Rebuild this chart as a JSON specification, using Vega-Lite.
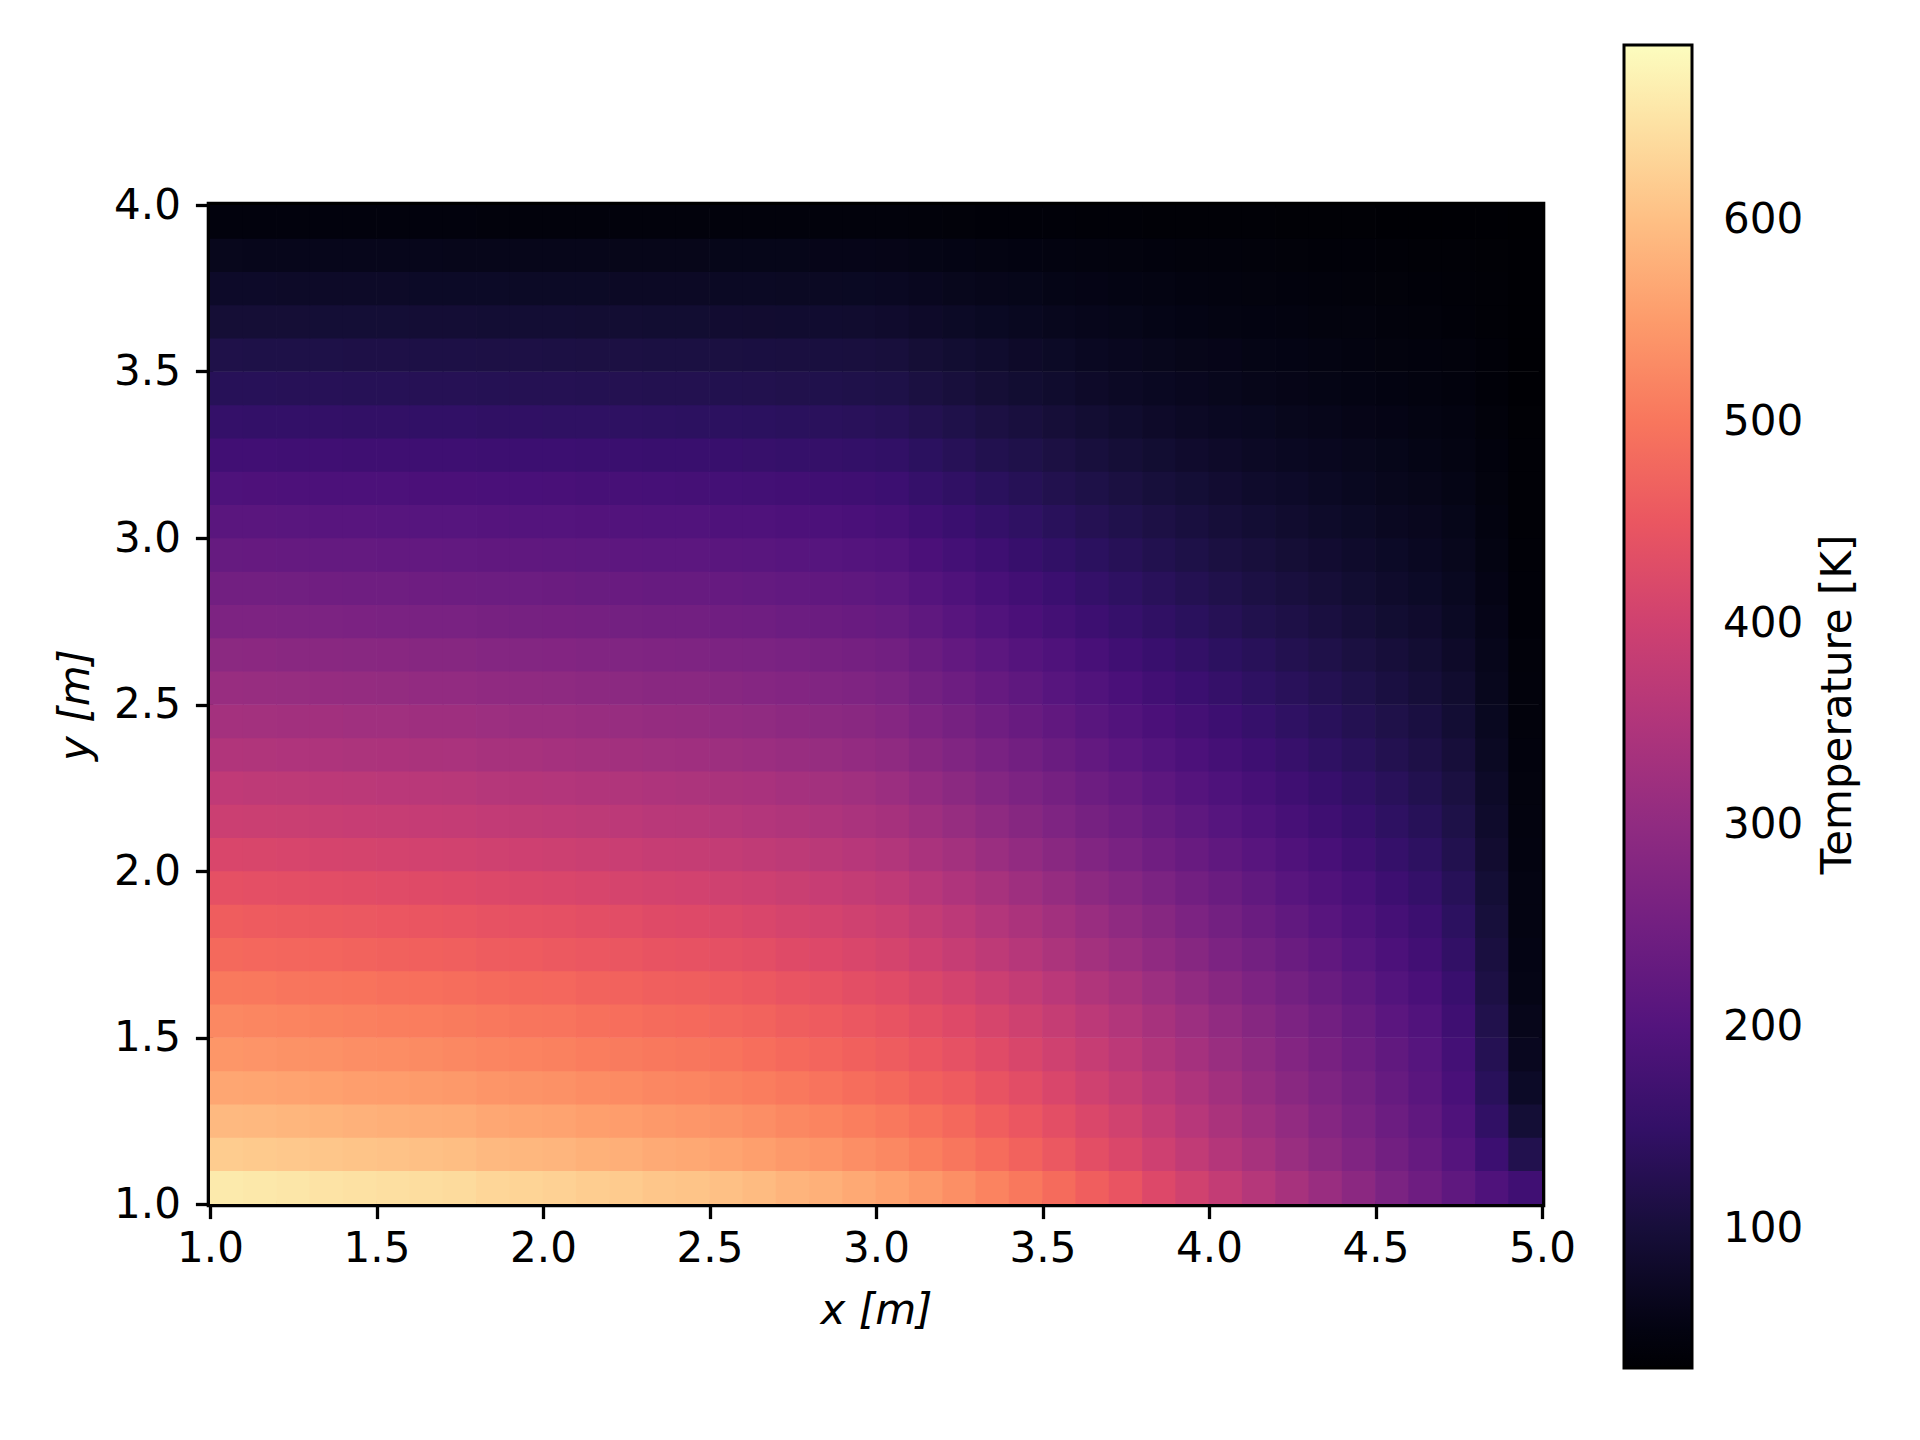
{
"$schema": "https://vega.github.io/schema/vega-lite/v6.json",
"width": 1332,
"height": 999,
"autosize": "none",
"padding": {"left": 210, "top": 205, "right": 378, "bottom": 236},
"background": "white",
"title": {"text": "Temperature [K]", "orient": "right", "frame": "group", "anchor": "middle", "angle": 270, "baseline": "top", "offset": -28, "fontSize": 42, "fontWeight": "normal", "font": "DejaVu Sans", "color": "black"},
"config": {
  "font": "DejaVu Sans",
  "view": {"stroke": "black", "strokeWidth": 6.6},
  "axis": {"domain": false, "grid": false, "ticks": true, "labelFlush": false, "labelOverlap": false, "tickSize": 14.6, "tickWidth": 3.3, "tickColor": "black", "labelFontSize": 42, "labelColor": "black", "labelFont": "DejaVu Sans", "titleFontSize": 42, "titleFontWeight": "normal", "titleColor": "black", "titleFont": "DejaVu Sans", "titleFontStyle": "italic", "zindex": 1}
},
"data": {"values": [
{"x":1.05,"y":1.05,"t":661},{"x":1.15,"y":1.05,"t":658},{"x":1.25,"y":1.05,"t":655},{"x":1.35,"y":1.05,"t":651},{"x":1.45,"y":1.05,"t":648},{"x":1.55,"y":1.05,"t":645},{"x":1.65,"y":1.05,"t":642},{"x":1.75,"y":1.05,"t":639},{"x":1.85,"y":1.05,"t":632},{"x":1.95,"y":1.05,"t":629},{"x":2.05,"y":1.05,"t":626},{"x":2.15,"y":1.05,"t":620},{"x":2.25,"y":1.05,"t":617},{"x":2.35,"y":1.05,"t":610},{"x":2.45,"y":1.05,"t":607},{"x":2.55,"y":1.05,"t":601},{"x":2.65,"y":1.05,"t":594},{"x":2.75,"y":1.05,"t":585},{"x":2.85,"y":1.05,"t":579},{"x":2.95,"y":1.05,"t":569},{"x":3.05,"y":1.05,"t":560},{"x":3.15,"y":1.05,"t":547},{"x":3.25,"y":1.05,"t":534},{"x":3.35,"y":1.05,"t":518},{"x":3.45,"y":1.05,"t":503},{"x":3.55,"y":1.05,"t":484},{"x":3.65,"y":1.05,"t":465},{"x":3.75,"y":1.05,"t":446},{"x":3.85,"y":1.05,"t":423},{"x":3.95,"y":1.05,"t":401},{"x":4.05,"y":1.05,"t":379},{"x":4.15,"y":1.05,"t":357},{"x":4.25,"y":1.05,"t":335},{"x":4.35,"y":1.05,"t":313},{"x":4.45,"y":1.05,"t":291},{"x":4.55,"y":1.05,"t":265},{"x":4.65,"y":1.05,"t":243},{"x":4.75,"y":1.05,"t":218},{"x":4.85,"y":1.05,"t":192},{"x":4.95,"y":1.05,"t":170},
{"x":1.05,"y":1.15,"t":618},{"x":1.15,"y":1.15,"t":615},{"x":1.25,"y":1.15,"t":613},{"x":1.35,"y":1.15,"t":610},{"x":1.45,"y":1.15,"t":607},{"x":1.55,"y":1.15,"t":604},{"x":1.65,"y":1.15,"t":601},{"x":1.75,"y":1.15,"t":598},{"x":1.85,"y":1.15,"t":592},{"x":1.95,"y":1.15,"t":589},{"x":2.05,"y":1.15,"t":586},{"x":2.15,"y":1.15,"t":580},{"x":2.25,"y":1.15,"t":577},{"x":2.35,"y":1.15,"t":571},{"x":2.45,"y":1.15,"t":568},{"x":2.55,"y":1.15,"t":562},{"x":2.65,"y":1.15,"t":556},{"x":2.75,"y":1.15,"t":548},{"x":2.85,"y":1.15,"t":542},{"x":2.95,"y":1.15,"t":533},{"x":3.05,"y":1.15,"t":524},{"x":3.15,"y":1.15,"t":512},{"x":3.25,"y":1.15,"t":500},{"x":3.35,"y":1.15,"t":486},{"x":3.45,"y":1.15,"t":471},{"x":3.55,"y":1.15,"t":453},{"x":3.65,"y":1.15,"t":435},{"x":3.75,"y":1.15,"t":418},{"x":3.85,"y":1.15,"t":397},{"x":3.95,"y":1.15,"t":376},{"x":4.05,"y":1.15,"t":356},{"x":4.15,"y":1.15,"t":335},{"x":4.25,"y":1.15,"t":314},{"x":4.35,"y":1.15,"t":294},{"x":4.45,"y":1.15,"t":273},{"x":4.55,"y":1.15,"t":249},{"x":4.65,"y":1.15,"t":229},{"x":4.75,"y":1.15,"t":202},{"x":4.85,"y":1.15,"t":164},{"x":4.95,"y":1.15,"t":122},
{"x":1.05,"y":1.25,"t":592},{"x":1.15,"y":1.25,"t":590},{"x":1.25,"y":1.25,"t":587},{"x":1.35,"y":1.25,"t":584},{"x":1.45,"y":1.25,"t":581},{"x":1.55,"y":1.25,"t":578},{"x":1.65,"y":1.25,"t":575},{"x":1.75,"y":1.25,"t":573},{"x":1.85,"y":1.25,"t":567},{"x":1.95,"y":1.25,"t":564},{"x":2.05,"y":1.25,"t":561},{"x":2.15,"y":1.25,"t":556},{"x":2.25,"y":1.25,"t":553},{"x":2.35,"y":1.25,"t":547},{"x":2.45,"y":1.25,"t":544},{"x":2.55,"y":1.25,"t":539},{"x":2.65,"y":1.25,"t":533},{"x":2.75,"y":1.25,"t":525},{"x":2.85,"y":1.25,"t":519},{"x":2.95,"y":1.25,"t":511},{"x":3.05,"y":1.25,"t":502},{"x":3.15,"y":1.25,"t":491},{"x":3.25,"y":1.25,"t":480},{"x":3.35,"y":1.25,"t":465},{"x":3.45,"y":1.25,"t":451},{"x":3.55,"y":1.25,"t":434},{"x":3.65,"y":1.25,"t":418},{"x":3.75,"y":1.25,"t":401},{"x":3.85,"y":1.25,"t":381},{"x":3.95,"y":1.25,"t":361},{"x":4.05,"y":1.25,"t":341},{"x":4.15,"y":1.25,"t":322},{"x":4.25,"y":1.25,"t":302},{"x":4.35,"y":1.25,"t":282},{"x":4.45,"y":1.25,"t":262},{"x":4.55,"y":1.25,"t":240},{"x":4.65,"y":1.25,"t":220},{"x":4.75,"y":1.25,"t":192},{"x":4.85,"y":1.25,"t":147},{"x":4.95,"y":1.25,"t":95},
{"x":1.05,"y":1.35,"t":566},{"x":1.15,"y":1.35,"t":564},{"x":1.25,"y":1.35,"t":561},{"x":1.35,"y":1.35,"t":558},{"x":1.45,"y":1.35,"t":555},{"x":1.55,"y":1.35,"t":553},{"x":1.65,"y":1.35,"t":550},{"x":1.75,"y":1.35,"t":547},{"x":1.85,"y":1.35,"t":542},{"x":1.95,"y":1.35,"t":539},{"x":2.05,"y":1.35,"t":537},{"x":2.15,"y":1.35,"t":531},{"x":2.25,"y":1.35,"t":529},{"x":2.35,"y":1.35,"t":523},{"x":2.45,"y":1.35,"t":520},{"x":2.55,"y":1.35,"t":515},{"x":2.65,"y":1.35,"t":510},{"x":2.75,"y":1.35,"t":502},{"x":2.85,"y":1.35,"t":496},{"x":2.95,"y":1.35,"t":488},{"x":3.05,"y":1.35,"t":480},{"x":3.15,"y":1.35,"t":469},{"x":3.25,"y":1.35,"t":459},{"x":3.35,"y":1.35,"t":445},{"x":3.45,"y":1.35,"t":432},{"x":3.55,"y":1.35,"t":416},{"x":3.65,"y":1.35,"t":399},{"x":3.75,"y":1.35,"t":383},{"x":3.85,"y":1.35,"t":365},{"x":3.95,"y":1.35,"t":346},{"x":4.05,"y":1.35,"t":327},{"x":4.15,"y":1.35,"t":308},{"x":4.25,"y":1.35,"t":289},{"x":4.35,"y":1.35,"t":270},{"x":4.45,"y":1.35,"t":252},{"x":4.55,"y":1.35,"t":230},{"x":4.65,"y":1.35,"t":211},{"x":4.75,"y":1.35,"t":183},{"x":4.85,"y":1.35,"t":135},{"x":4.95,"y":1.35,"t":78},
{"x":1.05,"y":1.45,"t":543},{"x":1.15,"y":1.45,"t":541},{"x":1.25,"y":1.45,"t":538},{"x":1.35,"y":1.45,"t":536},{"x":1.45,"y":1.45,"t":533},{"x":1.55,"y":1.45,"t":531},{"x":1.65,"y":1.45,"t":528},{"x":1.75,"y":1.45,"t":525},{"x":1.85,"y":1.45,"t":520},{"x":1.95,"y":1.45,"t":518},{"x":2.05,"y":1.45,"t":515},{"x":2.15,"y":1.45,"t":510},{"x":2.25,"y":1.45,"t":507},{"x":2.35,"y":1.45,"t":502},{"x":2.45,"y":1.45,"t":500},{"x":2.55,"y":1.45,"t":495},{"x":2.65,"y":1.45,"t":489},{"x":2.75,"y":1.45,"t":482},{"x":2.85,"y":1.45,"t":476},{"x":2.95,"y":1.45,"t":469},{"x":3.05,"y":1.45,"t":461},{"x":3.15,"y":1.45,"t":451},{"x":3.25,"y":1.45,"t":440},{"x":3.35,"y":1.45,"t":428},{"x":3.45,"y":1.45,"t":415},{"x":3.55,"y":1.45,"t":399},{"x":3.65,"y":1.45,"t":384},{"x":3.75,"y":1.45,"t":368},{"x":3.85,"y":1.45,"t":350},{"x":3.95,"y":1.45,"t":332},{"x":4.05,"y":1.45,"t":314},{"x":4.15,"y":1.45,"t":296},{"x":4.25,"y":1.45,"t":278},{"x":4.35,"y":1.45,"t":260},{"x":4.45,"y":1.45,"t":242},{"x":4.55,"y":1.45,"t":222},{"x":4.65,"y":1.45,"t":204},{"x":4.75,"y":1.45,"t":176},{"x":4.85,"y":1.45,"t":127},{"x":4.95,"y":1.45,"t":68},
{"x":1.05,"y":1.55,"t":524},{"x":1.15,"y":1.55,"t":521},{"x":1.25,"y":1.55,"t":519},{"x":1.35,"y":1.55,"t":516},{"x":1.45,"y":1.55,"t":514},{"x":1.55,"y":1.55,"t":511},{"x":1.65,"y":1.55,"t":509},{"x":1.75,"y":1.55,"t":506},{"x":1.85,"y":1.55,"t":502},{"x":1.95,"y":1.55,"t":499},{"x":2.05,"y":1.55,"t":497},{"x":2.15,"y":1.55,"t":492},{"x":2.25,"y":1.55,"t":489},{"x":2.35,"y":1.55,"t":484},{"x":2.45,"y":1.55,"t":482},{"x":2.55,"y":1.55,"t":477},{"x":2.65,"y":1.55,"t":472},{"x":2.75,"y":1.55,"t":464},{"x":2.85,"y":1.55,"t":459},{"x":2.95,"y":1.55,"t":452},{"x":3.05,"y":1.55,"t":445},{"x":3.15,"y":1.55,"t":434},{"x":3.25,"y":1.55,"t":424},{"x":3.35,"y":1.55,"t":411},{"x":3.45,"y":1.55,"t":398},{"x":3.55,"y":1.55,"t":383},{"x":3.65,"y":1.55,"t":368},{"x":3.75,"y":1.55,"t":353},{"x":3.85,"y":1.55,"t":335},{"x":3.95,"y":1.55,"t":318},{"x":4.05,"y":1.55,"t":301},{"x":4.15,"y":1.55,"t":283},{"x":4.25,"y":1.55,"t":266},{"x":4.35,"y":1.55,"t":249},{"x":4.45,"y":1.55,"t":232},{"x":4.55,"y":1.55,"t":212},{"x":4.65,"y":1.55,"t":195},{"x":4.75,"y":1.55,"t":168},{"x":4.85,"y":1.55,"t":120},{"x":4.95,"y":1.55,"t":62},
{"x":1.05,"y":1.65,"t":504},{"x":1.15,"y":1.65,"t":502},{"x":1.25,"y":1.65,"t":499},{"x":1.35,"y":1.65,"t":497},{"x":1.45,"y":1.65,"t":495},{"x":1.55,"y":1.65,"t":492},{"x":1.65,"y":1.65,"t":490},{"x":1.75,"y":1.65,"t":488},{"x":1.85,"y":1.65,"t":483},{"x":1.95,"y":1.65,"t":480},{"x":2.05,"y":1.65,"t":478},{"x":2.15,"y":1.65,"t":473},{"x":2.25,"y":1.65,"t":471},{"x":2.35,"y":1.65,"t":466},{"x":2.45,"y":1.65,"t":464},{"x":2.55,"y":1.65,"t":459},{"x":2.65,"y":1.65,"t":454},{"x":2.75,"y":1.65,"t":447},{"x":2.85,"y":1.65,"t":442},{"x":2.95,"y":1.65,"t":435},{"x":3.05,"y":1.65,"t":428},{"x":3.15,"y":1.65,"t":417},{"x":3.25,"y":1.65,"t":406},{"x":3.35,"y":1.65,"t":393},{"x":3.45,"y":1.65,"t":380},{"x":3.55,"y":1.65,"t":365},{"x":3.65,"y":1.65,"t":350},{"x":3.75,"y":1.65,"t":335},{"x":3.85,"y":1.65,"t":318},{"x":3.95,"y":1.65,"t":301},{"x":4.05,"y":1.65,"t":285},{"x":4.15,"y":1.65,"t":268},{"x":4.25,"y":1.65,"t":252},{"x":4.35,"y":1.65,"t":235},{"x":4.45,"y":1.65,"t":219},{"x":4.55,"y":1.65,"t":200},{"x":4.65,"y":1.65,"t":184},{"x":4.75,"y":1.65,"t":159},{"x":4.85,"y":1.65,"t":112},{"x":4.95,"y":1.65,"t":56},
{"x":1.05,"y":1.75,"t":481},{"x":1.15,"y":1.75,"t":479},{"x":1.25,"y":1.75,"t":477},{"x":1.35,"y":1.75,"t":475},{"x":1.45,"y":1.75,"t":472},{"x":1.55,"y":1.75,"t":470},{"x":1.65,"y":1.75,"t":468},{"x":1.75,"y":1.75,"t":466},{"x":1.85,"y":1.75,"t":461},{"x":1.95,"y":1.75,"t":459},{"x":2.05,"y":1.75,"t":456},{"x":2.15,"y":1.75,"t":452},{"x":2.25,"y":1.75,"t":450},{"x":2.35,"y":1.75,"t":445},{"x":2.45,"y":1.75,"t":443},{"x":2.55,"y":1.75,"t":438},{"x":2.65,"y":1.75,"t":434},{"x":2.75,"y":1.75,"t":427},{"x":2.85,"y":1.75,"t":423},{"x":2.95,"y":1.75,"t":416},{"x":3.05,"y":1.75,"t":408},{"x":3.15,"y":1.75,"t":397},{"x":3.25,"y":1.75,"t":385},{"x":3.35,"y":1.75,"t":372},{"x":3.45,"y":1.75,"t":359},{"x":3.55,"y":1.75,"t":344},{"x":3.65,"y":1.75,"t":330},{"x":3.75,"y":1.75,"t":315},{"x":3.85,"y":1.75,"t":299},{"x":3.95,"y":1.75,"t":283},{"x":4.05,"y":1.75,"t":267},{"x":4.15,"y":1.75,"t":252},{"x":4.25,"y":1.75,"t":236},{"x":4.35,"y":1.75,"t":221},{"x":4.45,"y":1.75,"t":205},{"x":4.55,"y":1.75,"t":188},{"x":4.65,"y":1.75,"t":173},{"x":4.75,"y":1.75,"t":149},{"x":4.85,"y":1.75,"t":106},{"x":4.95,"y":1.75,"t":54},
{"x":1.05,"y":1.85,"t":462},{"x":1.15,"y":1.85,"t":460},{"x":1.25,"y":1.85,"t":458},{"x":1.35,"y":1.85,"t":455},{"x":1.45,"y":1.85,"t":453},{"x":1.55,"y":1.85,"t":451},{"x":1.65,"y":1.85,"t":449},{"x":1.75,"y":1.85,"t":447},{"x":1.85,"y":1.85,"t":442},{"x":1.95,"y":1.85,"t":440},{"x":2.05,"y":1.85,"t":438},{"x":2.15,"y":1.85,"t":434},{"x":2.25,"y":1.85,"t":432},{"x":2.35,"y":1.85,"t":427},{"x":2.45,"y":1.85,"t":425},{"x":2.55,"y":1.85,"t":421},{"x":2.65,"y":1.85,"t":416},{"x":2.75,"y":1.85,"t":410},{"x":2.85,"y":1.85,"t":406},{"x":2.95,"y":1.85,"t":399},{"x":3.05,"y":1.85,"t":392},{"x":3.15,"y":1.85,"t":380},{"x":3.25,"y":1.85,"t":368},{"x":3.35,"y":1.85,"t":355},{"x":3.45,"y":1.85,"t":342},{"x":3.55,"y":1.85,"t":327},{"x":3.65,"y":1.85,"t":313},{"x":3.75,"y":1.85,"t":298},{"x":3.85,"y":1.85,"t":283},{"x":3.95,"y":1.85,"t":267},{"x":4.05,"y":1.85,"t":252},{"x":4.15,"y":1.85,"t":237},{"x":4.25,"y":1.85,"t":222},{"x":4.35,"y":1.85,"t":208},{"x":4.45,"y":1.85,"t":193},{"x":4.55,"y":1.85,"t":177},{"x":4.65,"y":1.85,"t":163},{"x":4.75,"y":1.85,"t":141},{"x":4.85,"y":1.85,"t":101},{"x":4.95,"y":1.85,"t":52},
{"x":1.05,"y":1.95,"t":439},{"x":1.15,"y":1.95,"t":437},{"x":1.25,"y":1.95,"t":435},{"x":1.35,"y":1.95,"t":433},{"x":1.45,"y":1.95,"t":431},{"x":1.55,"y":1.95,"t":429},{"x":1.65,"y":1.95,"t":427},{"x":1.75,"y":1.95,"t":425},{"x":1.85,"y":1.95,"t":421},{"x":1.95,"y":1.95,"t":418},{"x":2.05,"y":1.95,"t":416},{"x":2.15,"y":1.95,"t":412},{"x":2.25,"y":1.95,"t":410},{"x":2.35,"y":1.95,"t":406},{"x":2.45,"y":1.95,"t":404},{"x":2.55,"y":1.95,"t":400},{"x":2.65,"y":1.95,"t":396},{"x":2.75,"y":1.95,"t":390},{"x":2.85,"y":1.95,"t":386},{"x":2.95,"y":1.95,"t":380},{"x":3.05,"y":1.95,"t":373},{"x":3.15,"y":1.95,"t":360},{"x":3.25,"y":1.95,"t":348},{"x":3.35,"y":1.95,"t":335},{"x":3.45,"y":1.95,"t":322},{"x":3.55,"y":1.95,"t":308},{"x":3.65,"y":1.95,"t":294},{"x":3.75,"y":1.95,"t":280},{"x":3.85,"y":1.95,"t":265},{"x":3.95,"y":1.95,"t":250},{"x":4.05,"y":1.95,"t":236},{"x":4.15,"y":1.95,"t":222},{"x":4.25,"y":1.95,"t":208},{"x":4.35,"y":1.95,"t":194},{"x":4.45,"y":1.95,"t":181},{"x":4.55,"y":1.95,"t":165},{"x":4.65,"y":1.95,"t":152},{"x":4.75,"y":1.95,"t":132},{"x":4.85,"y":1.95,"t":95},{"x":4.95,"y":1.95,"t":51},
{"x":1.05,"y":2.05,"t":416},{"x":1.15,"y":2.05,"t":414},{"x":1.25,"y":2.05,"t":412},{"x":1.35,"y":2.05,"t":410},{"x":1.45,"y":2.05,"t":408},{"x":1.55,"y":2.05,"t":406},{"x":1.65,"y":2.05,"t":404},{"x":1.75,"y":2.05,"t":403},{"x":1.85,"y":2.05,"t":399},{"x":1.95,"y":2.05,"t":397},{"x":2.05,"y":2.05,"t":395},{"x":2.15,"y":2.05,"t":391},{"x":2.25,"y":2.05,"t":389},{"x":2.35,"y":2.05,"t":385},{"x":2.45,"y":2.05,"t":383},{"x":2.55,"y":2.05,"t":379},{"x":2.65,"y":2.05,"t":375},{"x":2.75,"y":2.05,"t":370},{"x":2.85,"y":2.05,"t":366},{"x":2.95,"y":2.05,"t":360},{"x":3.05,"y":2.05,"t":353},{"x":3.15,"y":2.05,"t":340},{"x":3.25,"y":2.05,"t":329},{"x":3.35,"y":2.05,"t":315},{"x":3.45,"y":2.05,"t":303},{"x":3.55,"y":2.05,"t":289},{"x":3.65,"y":2.05,"t":275},{"x":3.75,"y":2.05,"t":261},{"x":3.85,"y":2.05,"t":247},{"x":3.95,"y":2.05,"t":233},{"x":4.05,"y":2.05,"t":220},{"x":4.15,"y":2.05,"t":207},{"x":4.25,"y":2.05,"t":194},{"x":4.35,"y":2.05,"t":181},{"x":4.45,"y":2.05,"t":168},{"x":4.55,"y":2.05,"t":154},{"x":4.65,"y":2.05,"t":142},{"x":4.75,"y":2.05,"t":123},{"x":4.85,"y":2.05,"t":89},{"x":4.95,"y":2.05,"t":49},
{"x":1.05,"y":2.15,"t":393},{"x":1.15,"y":2.15,"t":391},{"x":1.25,"y":2.15,"t":390},{"x":1.35,"y":2.15,"t":388},{"x":1.45,"y":2.15,"t":386},{"x":1.55,"y":2.15,"t":384},{"x":1.65,"y":2.15,"t":382},{"x":1.75,"y":2.15,"t":381},{"x":1.85,"y":2.15,"t":377},{"x":1.95,"y":2.15,"t":375},{"x":2.05,"y":2.15,"t":373},{"x":2.15,"y":2.15,"t":370},{"x":2.25,"y":2.15,"t":368},{"x":2.35,"y":2.15,"t":364},{"x":2.45,"y":2.15,"t":362},{"x":2.55,"y":2.15,"t":359},{"x":2.65,"y":2.15,"t":355},{"x":2.75,"y":2.15,"t":350},{"x":2.85,"y":2.15,"t":346},{"x":2.95,"y":2.15,"t":340},{"x":3.05,"y":2.15,"t":334},{"x":3.15,"y":2.15,"t":321},{"x":3.25,"y":2.15,"t":309},{"x":3.35,"y":2.15,"t":296},{"x":3.45,"y":2.15,"t":284},{"x":3.55,"y":2.15,"t":270},{"x":3.65,"y":2.15,"t":257},{"x":3.75,"y":2.15,"t":244},{"x":3.85,"y":2.15,"t":230},{"x":3.95,"y":2.15,"t":217},{"x":4.05,"y":2.15,"t":205},{"x":4.15,"y":2.15,"t":192},{"x":4.25,"y":2.15,"t":180},{"x":4.35,"y":2.15,"t":168},{"x":4.45,"y":2.15,"t":157},{"x":4.55,"y":2.15,"t":143},{"x":4.65,"y":2.15,"t":132},{"x":4.75,"y":2.15,"t":115},{"x":4.85,"y":2.15,"t":84},{"x":4.95,"y":2.15,"t":47},
{"x":1.05,"y":2.25,"t":374},{"x":1.15,"y":2.25,"t":372},{"x":1.25,"y":2.25,"t":370},{"x":1.35,"y":2.25,"t":369},{"x":1.45,"y":2.25,"t":367},{"x":1.55,"y":2.25,"t":365},{"x":1.65,"y":2.25,"t":363},{"x":1.75,"y":2.25,"t":362},{"x":1.85,"y":2.25,"t":358},{"x":1.95,"y":2.25,"t":356},{"x":2.05,"y":2.25,"t":355},{"x":2.15,"y":2.25,"t":351},{"x":2.25,"y":2.25,"t":350},{"x":2.35,"y":2.25,"t":346},{"x":2.45,"y":2.25,"t":344},{"x":2.55,"y":2.25,"t":341},{"x":2.65,"y":2.25,"t":338},{"x":2.75,"y":2.25,"t":332},{"x":2.85,"y":2.25,"t":329},{"x":2.95,"y":2.25,"t":324},{"x":3.05,"y":2.25,"t":317},{"x":3.15,"y":2.25,"t":304},{"x":3.25,"y":2.25,"t":292},{"x":3.35,"y":2.25,"t":279},{"x":3.45,"y":2.25,"t":267},{"x":3.55,"y":2.25,"t":254},{"x":3.65,"y":2.25,"t":241},{"x":3.75,"y":2.25,"t":229},{"x":3.85,"y":2.25,"t":216},{"x":3.95,"y":2.25,"t":203},{"x":4.05,"y":2.25,"t":191},{"x":4.15,"y":2.25,"t":180},{"x":4.25,"y":2.25,"t":168},{"x":4.35,"y":2.25,"t":157},{"x":4.45,"y":2.25,"t":146},{"x":4.55,"y":2.25,"t":134},{"x":4.65,"y":2.25,"t":123},{"x":4.75,"y":2.25,"t":108},{"x":4.85,"y":2.25,"t":79},{"x":4.95,"y":2.25,"t":46},
{"x":1.05,"y":2.35,"t":351},{"x":1.15,"y":2.35,"t":349},{"x":1.25,"y":2.35,"t":348},{"x":1.35,"y":2.35,"t":346},{"x":1.45,"y":2.35,"t":344},{"x":1.55,"y":2.35,"t":343},{"x":1.65,"y":2.35,"t":341},{"x":1.75,"y":2.35,"t":340},{"x":1.85,"y":2.35,"t":336},{"x":1.95,"y":2.35,"t":335},{"x":2.05,"y":2.35,"t":333},{"x":2.15,"y":2.35,"t":330},{"x":2.25,"y":2.35,"t":328},{"x":2.35,"y":2.35,"t":325},{"x":2.45,"y":2.35,"t":323},{"x":2.55,"y":2.35,"t":320},{"x":2.65,"y":2.35,"t":317},{"x":2.75,"y":2.35,"t":312},{"x":2.85,"y":2.35,"t":309},{"x":2.95,"y":2.35,"t":304},{"x":3.05,"y":2.35,"t":298},{"x":3.15,"y":2.35,"t":285},{"x":3.25,"y":2.35,"t":274},{"x":3.35,"y":2.35,"t":261},{"x":3.45,"y":2.35,"t":249},{"x":3.55,"y":2.35,"t":236},{"x":3.65,"y":2.35,"t":224},{"x":3.75,"y":2.35,"t":212},{"x":3.85,"y":2.35,"t":200},{"x":3.95,"y":2.35,"t":188},{"x":4.05,"y":2.35,"t":177},{"x":4.15,"y":2.35,"t":166},{"x":4.25,"y":2.35,"t":156},{"x":4.35,"y":2.35,"t":145},{"x":4.45,"y":2.35,"t":135},{"x":4.55,"y":2.35,"t":124},{"x":4.65,"y":2.35,"t":114},{"x":4.75,"y":2.35,"t":100},{"x":4.85,"y":2.35,"t":74},{"x":4.95,"y":2.35,"t":44},
{"x":1.05,"y":2.45,"t":331},{"x":1.15,"y":2.45,"t":330},{"x":1.25,"y":2.45,"t":328},{"x":1.35,"y":2.45,"t":327},{"x":1.45,"y":2.45,"t":325},{"x":1.55,"y":2.45,"t":324},{"x":1.65,"y":2.45,"t":322},{"x":1.75,"y":2.45,"t":321},{"x":1.85,"y":2.45,"t":318},{"x":1.95,"y":2.45,"t":316},{"x":2.05,"y":2.45,"t":315},{"x":2.15,"y":2.45,"t":312},{"x":2.25,"y":2.45,"t":310},{"x":2.35,"y":2.45,"t":307},{"x":2.45,"y":2.45,"t":306},{"x":2.55,"y":2.45,"t":303},{"x":2.65,"y":2.45,"t":300},{"x":2.75,"y":2.45,"t":295},{"x":2.85,"y":2.45,"t":292},{"x":2.95,"y":2.45,"t":288},{"x":3.05,"y":2.45,"t":282},{"x":3.15,"y":2.45,"t":269},{"x":3.25,"y":2.45,"t":257},{"x":3.35,"y":2.45,"t":245},{"x":3.45,"y":2.45,"t":233},{"x":3.55,"y":2.45,"t":221},{"x":3.65,"y":2.45,"t":209},{"x":3.75,"y":2.45,"t":198},{"x":3.85,"y":2.45,"t":186},{"x":3.95,"y":2.45,"t":175},{"x":4.05,"y":2.45,"t":165},{"x":4.15,"y":2.45,"t":155},{"x":4.25,"y":2.45,"t":145},{"x":4.35,"y":2.45,"t":135},{"x":4.45,"y":2.45,"t":126},{"x":4.55,"y":2.45,"t":116},{"x":4.65,"y":2.45,"t":107},{"x":4.75,"y":2.45,"t":93},{"x":4.85,"y":2.45,"t":70},{"x":4.95,"y":2.45,"t":43},
{"x":1.05,"y":2.55,"t":312},{"x":1.15,"y":2.55,"t":310},{"x":1.25,"y":2.55,"t":309},{"x":1.35,"y":2.55,"t":307},{"x":1.45,"y":2.55,"t":306},{"x":1.55,"y":2.55,"t":305},{"x":1.65,"y":2.55,"t":303},{"x":1.75,"y":2.55,"t":302},{"x":1.85,"y":2.55,"t":299},{"x":1.95,"y":2.55,"t":298},{"x":2.05,"y":2.55,"t":296},{"x":2.15,"y":2.55,"t":293},{"x":2.25,"y":2.55,"t":292},{"x":2.35,"y":2.55,"t":289},{"x":2.45,"y":2.55,"t":288},{"x":2.55,"y":2.55,"t":285},{"x":2.65,"y":2.55,"t":282},{"x":2.75,"y":2.55,"t":278},{"x":2.85,"y":2.55,"t":275},{"x":2.95,"y":2.55,"t":271},{"x":3.05,"y":2.55,"t":265},{"x":3.15,"y":2.55,"t":252},{"x":3.25,"y":2.55,"t":241},{"x":3.35,"y":2.55,"t":229},{"x":3.45,"y":2.55,"t":218},{"x":3.55,"y":2.55,"t":206},{"x":3.65,"y":2.55,"t":195},{"x":3.75,"y":2.55,"t":184},{"x":3.85,"y":2.55,"t":173},{"x":3.95,"y":2.55,"t":162},{"x":4.05,"y":2.55,"t":153},{"x":4.15,"y":2.55,"t":143},{"x":4.25,"y":2.55,"t":134},{"x":4.35,"y":2.55,"t":126},{"x":4.45,"y":2.55,"t":117},{"x":4.55,"y":2.55,"t":107},{"x":4.65,"y":2.55,"t":99},{"x":4.75,"y":2.55,"t":87},{"x":4.85,"y":2.55,"t":66},{"x":4.95,"y":2.55,"t":42},
{"x":1.05,"y":2.65,"t":292},{"x":1.15,"y":2.65,"t":291},{"x":1.25,"y":2.65,"t":289},{"x":1.35,"y":2.65,"t":288},{"x":1.45,"y":2.65,"t":287},{"x":1.55,"y":2.65,"t":286},{"x":1.65,"y":2.65,"t":284},{"x":1.75,"y":2.65,"t":283},{"x":1.85,"y":2.65,"t":280},{"x":1.95,"y":2.65,"t":279},{"x":2.05,"y":2.65,"t":278},{"x":2.15,"y":2.65,"t":275},{"x":2.25,"y":2.65,"t":274},{"x":2.35,"y":2.65,"t":271},{"x":2.45,"y":2.65,"t":270},{"x":2.55,"y":2.65,"t":267},{"x":2.65,"y":2.65,"t":265},{"x":2.75,"y":2.65,"t":261},{"x":2.85,"y":2.65,"t":258},{"x":2.95,"y":2.65,"t":254},{"x":3.05,"y":2.65,"t":249},{"x":3.15,"y":2.65,"t":236},{"x":3.25,"y":2.65,"t":225},{"x":3.35,"y":2.65,"t":213},{"x":3.45,"y":2.65,"t":203},{"x":3.55,"y":2.65,"t":192},{"x":3.65,"y":2.65,"t":181},{"x":3.75,"y":2.65,"t":170},{"x":3.85,"y":2.65,"t":160},{"x":3.95,"y":2.65,"t":150},{"x":4.05,"y":2.65,"t":141},{"x":4.15,"y":2.65,"t":133},{"x":4.25,"y":2.65,"t":124},{"x":4.35,"y":2.65,"t":116},{"x":4.45,"y":2.65,"t":108},{"x":4.55,"y":2.65,"t":100},{"x":4.65,"y":2.65,"t":92},{"x":4.75,"y":2.65,"t":81},{"x":4.85,"y":2.65,"t":63},{"x":4.95,"y":2.65,"t":41},
{"x":1.05,"y":2.75,"t":269},{"x":1.15,"y":2.75,"t":268},{"x":1.25,"y":2.75,"t":267},{"x":1.35,"y":2.75,"t":266},{"x":1.45,"y":2.75,"t":264},{"x":1.55,"y":2.75,"t":263},{"x":1.65,"y":2.75,"t":262},{"x":1.75,"y":2.75,"t":261},{"x":1.85,"y":2.75,"t":258},{"x":1.95,"y":2.75,"t":257},{"x":2.05,"y":2.75,"t":256},{"x":2.15,"y":2.75,"t":254},{"x":2.25,"y":2.75,"t":252},{"x":2.35,"y":2.75,"t":250},{"x":2.45,"y":2.75,"t":249},{"x":2.55,"y":2.75,"t":246},{"x":2.65,"y":2.75,"t":244},{"x":2.75,"y":2.75,"t":240},{"x":2.85,"y":2.75,"t":238},{"x":2.95,"y":2.75,"t":234},{"x":3.05,"y":2.75,"t":230},{"x":3.15,"y":2.75,"t":218},{"x":3.25,"y":2.75,"t":207},{"x":3.35,"y":2.75,"t":196},{"x":3.45,"y":2.75,"t":186},{"x":3.55,"y":2.75,"t":175},{"x":3.65,"y":2.75,"t":165},{"x":3.75,"y":2.75,"t":155},{"x":3.85,"y":2.75,"t":146},{"x":3.95,"y":2.75,"t":137},{"x":4.05,"y":2.75,"t":129},{"x":4.15,"y":2.75,"t":121},{"x":4.25,"y":2.75,"t":114},{"x":4.35,"y":2.75,"t":106},{"x":4.45,"y":2.75,"t":99},{"x":4.55,"y":2.75,"t":91},{"x":4.65,"y":2.75,"t":85},{"x":4.75,"y":2.75,"t":75},{"x":4.85,"y":2.75,"t":59},{"x":4.95,"y":2.75,"t":39},
{"x":1.05,"y":2.85,"t":250},{"x":1.15,"y":2.85,"t":249},{"x":1.25,"y":2.85,"t":248},{"x":1.35,"y":2.85,"t":246},{"x":1.45,"y":2.85,"t":245},{"x":1.55,"y":2.85,"t":244},{"x":1.65,"y":2.85,"t":243},{"x":1.75,"y":2.85,"t":242},{"x":1.85,"y":2.85,"t":240},{"x":1.95,"y":2.85,"t":239},{"x":2.05,"y":2.85,"t":238},{"x":2.15,"y":2.85,"t":235},{"x":2.25,"y":2.85,"t":234},{"x":2.35,"y":2.85,"t":232},{"x":2.45,"y":2.85,"t":231},{"x":2.55,"y":2.85,"t":229},{"x":2.65,"y":2.85,"t":227},{"x":2.75,"y":2.85,"t":223},{"x":2.85,"y":2.85,"t":221},{"x":2.95,"y":2.85,"t":218},{"x":3.05,"y":2.85,"t":213},{"x":3.15,"y":2.85,"t":202},{"x":3.25,"y":2.85,"t":192},{"x":3.35,"y":2.85,"t":181},{"x":3.45,"y":2.85,"t":172},{"x":3.55,"y":2.85,"t":162},{"x":3.65,"y":2.85,"t":152},{"x":3.75,"y":2.85,"t":143},{"x":3.85,"y":2.85,"t":134},{"x":3.95,"y":2.85,"t":126},{"x":4.05,"y":2.85,"t":118},{"x":4.15,"y":2.85,"t":111},{"x":4.25,"y":2.85,"t":104},{"x":4.35,"y":2.85,"t":98},{"x":4.45,"y":2.85,"t":91},{"x":4.55,"y":2.85,"t":84},{"x":4.65,"y":2.85,"t":78},{"x":4.75,"y":2.85,"t":70},{"x":4.85,"y":2.85,"t":55},{"x":4.95,"y":2.85,"t":38},
{"x":1.05,"y":2.95,"t":230},{"x":1.15,"y":2.95,"t":229},{"x":1.25,"y":2.95,"t":228},{"x":1.35,"y":2.95,"t":227},{"x":1.45,"y":2.95,"t":226},{"x":1.55,"y":2.95,"t":225},{"x":1.65,"y":2.95,"t":224},{"x":1.75,"y":2.95,"t":223},{"x":1.85,"y":2.95,"t":221},{"x":1.95,"y":2.95,"t":220},{"x":2.05,"y":2.95,"t":219},{"x":2.15,"y":2.95,"t":217},{"x":2.25,"y":2.95,"t":216},{"x":2.35,"y":2.95,"t":214},{"x":2.45,"y":2.95,"t":213},{"x":2.55,"y":2.95,"t":211},{"x":2.65,"y":2.95,"t":209},{"x":2.75,"y":2.95,"t":206},{"x":2.85,"y":2.95,"t":204},{"x":2.95,"y":2.95,"t":201},{"x":3.05,"y":2.95,"t":197},{"x":3.15,"y":2.95,"t":186},{"x":3.25,"y":2.95,"t":176},{"x":3.35,"y":2.95,"t":166},{"x":3.45,"y":2.95,"t":157},{"x":3.55,"y":2.95,"t":148},{"x":3.65,"y":2.95,"t":139},{"x":3.75,"y":2.95,"t":131},{"x":3.85,"y":2.95,"t":123},{"x":3.95,"y":2.95,"t":115},{"x":4.05,"y":2.95,"t":108},{"x":4.15,"y":2.95,"t":102},{"x":4.25,"y":2.95,"t":96},{"x":4.35,"y":2.95,"t":90},{"x":4.45,"y":2.95,"t":84},{"x":4.55,"y":2.95,"t":78},{"x":4.65,"y":2.95,"t":72},{"x":4.75,"y":2.95,"t":65},{"x":4.85,"y":2.95,"t":52},{"x":4.95,"y":2.95,"t":37},
{"x":1.05,"y":3.05,"t":211},{"x":1.15,"y":3.05,"t":210},{"x":1.25,"y":3.05,"t":209},{"x":1.35,"y":3.05,"t":208},{"x":1.45,"y":3.05,"t":207},{"x":1.55,"y":3.05,"t":206},{"x":1.65,"y":3.05,"t":205},{"x":1.75,"y":3.05,"t":204},{"x":1.85,"y":3.05,"t":202},{"x":1.95,"y":3.05,"t":201},{"x":2.05,"y":3.05,"t":201},{"x":2.15,"y":3.05,"t":199},{"x":2.25,"y":3.05,"t":198},{"x":2.35,"y":3.05,"t":196},{"x":2.45,"y":3.05,"t":195},{"x":2.55,"y":3.05,"t":193},{"x":2.65,"y":3.05,"t":192},{"x":2.75,"y":3.05,"t":189},{"x":2.85,"y":3.05,"t":187},{"x":2.95,"y":3.05,"t":184},{"x":3.05,"y":3.05,"t":180},{"x":3.15,"y":3.05,"t":170},{"x":3.25,"y":3.05,"t":161},{"x":3.35,"y":3.05,"t":152},{"x":3.45,"y":3.05,"t":144},{"x":3.55,"y":3.05,"t":135},{"x":3.65,"y":3.05,"t":127},{"x":3.75,"y":3.05,"t":119},{"x":3.85,"y":3.05,"t":112},{"x":3.95,"y":3.05,"t":105},{"x":4.05,"y":3.05,"t":99},{"x":4.15,"y":3.05,"t":93},{"x":4.25,"y":3.05,"t":87},{"x":4.35,"y":3.05,"t":82},{"x":4.45,"y":3.05,"t":77},{"x":4.55,"y":3.05,"t":71},{"x":4.65,"y":3.05,"t":67},{"x":4.75,"y":3.05,"t":60},{"x":4.85,"y":3.05,"t":49},{"x":4.95,"y":3.05,"t":36},
{"x":1.05,"y":3.15,"t":191},{"x":1.15,"y":3.15,"t":190},{"x":1.25,"y":3.15,"t":189},{"x":1.35,"y":3.15,"t":188},{"x":1.45,"y":3.15,"t":188},{"x":1.55,"y":3.15,"t":187},{"x":1.65,"y":3.15,"t":186},{"x":1.75,"y":3.15,"t":185},{"x":1.85,"y":3.15,"t":184},{"x":1.95,"y":3.15,"t":183},{"x":2.05,"y":3.15,"t":182},{"x":2.15,"y":3.15,"t":180},{"x":2.25,"y":3.15,"t":180},{"x":2.35,"y":3.15,"t":178},{"x":2.45,"y":3.15,"t":177},{"x":2.55,"y":3.15,"t":176},{"x":2.65,"y":3.15,"t":174},{"x":2.75,"y":3.15,"t":172},{"x":2.85,"y":3.15,"t":170},{"x":2.95,"y":3.15,"t":168},{"x":3.05,"y":3.15,"t":164},{"x":3.15,"y":3.15,"t":154},{"x":3.25,"y":3.15,"t":146},{"x":3.35,"y":3.15,"t":137},{"x":3.45,"y":3.15,"t":130},{"x":3.55,"y":3.15,"t":122},{"x":3.65,"y":3.15,"t":115},{"x":3.75,"y":3.15,"t":108},{"x":3.85,"y":3.15,"t":101},{"x":3.95,"y":3.15,"t":95},{"x":4.05,"y":3.15,"t":90},{"x":4.15,"y":3.15,"t":84},{"x":4.25,"y":3.15,"t":80},{"x":4.35,"y":3.15,"t":75},{"x":4.45,"y":3.15,"t":70},{"x":4.55,"y":3.15,"t":65},{"x":4.65,"y":3.15,"t":61},{"x":4.75,"y":3.15,"t":56},{"x":4.85,"y":3.15,"t":46},{"x":4.95,"y":3.15,"t":36},
{"x":1.05,"y":3.25,"t":171},{"x":1.15,"y":3.25,"t":171},{"x":1.25,"y":3.25,"t":170},{"x":1.35,"y":3.25,"t":169},{"x":1.45,"y":3.25,"t":168},{"x":1.55,"y":3.25,"t":168},{"x":1.65,"y":3.25,"t":167},{"x":1.75,"y":3.25,"t":166},{"x":1.85,"y":3.25,"t":165},{"x":1.95,"y":3.25,"t":164},{"x":2.05,"y":3.25,"t":164},{"x":2.15,"y":3.25,"t":162},{"x":2.25,"y":3.25,"t":161},{"x":2.35,"y":3.25,"t":160},{"x":2.45,"y":3.25,"t":159},{"x":2.55,"y":3.25,"t":158},{"x":2.65,"y":3.25,"t":156},{"x":2.75,"y":3.25,"t":154},{"x":2.85,"y":3.25,"t":153},{"x":2.95,"y":3.25,"t":151},{"x":3.05,"y":3.25,"t":148},{"x":3.15,"y":3.25,"t":139},{"x":3.25,"y":3.25,"t":131},{"x":3.35,"y":3.25,"t":123},{"x":3.45,"y":3.25,"t":117},{"x":3.55,"y":3.25,"t":110},{"x":3.65,"y":3.25,"t":103},{"x":3.75,"y":3.25,"t":97},{"x":3.85,"y":3.25,"t":91},{"x":3.95,"y":3.25,"t":85},{"x":4.05,"y":3.25,"t":81},{"x":4.15,"y":3.25,"t":76},{"x":4.25,"y":3.25,"t":72},{"x":4.35,"y":3.25,"t":68},{"x":4.45,"y":3.25,"t":64},{"x":4.55,"y":3.25,"t":60},{"x":4.65,"y":3.25,"t":56},{"x":4.75,"y":3.25,"t":52},{"x":4.85,"y":3.25,"t":44},{"x":4.95,"y":3.25,"t":35},
{"x":1.05,"y":3.35,"t":152},{"x":1.15,"y":3.35,"t":151},{"x":1.25,"y":3.35,"t":151},{"x":1.35,"y":3.35,"t":150},{"x":1.45,"y":3.35,"t":149},{"x":1.55,"y":3.35,"t":149},{"x":1.65,"y":3.35,"t":148},{"x":1.75,"y":3.35,"t":148},{"x":1.85,"y":3.35,"t":146},{"x":1.95,"y":3.35,"t":146},{"x":2.05,"y":3.35,"t":145},{"x":2.15,"y":3.35,"t":144},{"x":2.25,"y":3.35,"t":143},{"x":2.35,"y":3.35,"t":142},{"x":2.45,"y":3.35,"t":141},{"x":2.55,"y":3.35,"t":140},{"x":2.65,"y":3.35,"t":139},{"x":2.75,"y":3.35,"t":137},{"x":2.85,"y":3.35,"t":136},{"x":2.95,"y":3.35,"t":134},{"x":3.05,"y":3.35,"t":131},{"x":3.15,"y":3.35,"t":124},{"x":3.25,"y":3.35,"t":117},{"x":3.35,"y":3.35,"t":110},{"x":3.45,"y":3.35,"t":104},{"x":3.55,"y":3.35,"t":98},{"x":3.65,"y":3.35,"t":92},{"x":3.75,"y":3.35,"t":86},{"x":3.85,"y":3.35,"t":81},{"x":3.95,"y":3.35,"t":76},{"x":4.05,"y":3.35,"t":72},{"x":4.15,"y":3.35,"t":69},{"x":4.25,"y":3.35,"t":65},{"x":4.35,"y":3.35,"t":62},{"x":4.45,"y":3.35,"t":58},{"x":4.55,"y":3.35,"t":55},{"x":4.65,"y":3.35,"t":52},{"x":4.75,"y":3.35,"t":48},{"x":4.85,"y":3.35,"t":41},{"x":4.95,"y":3.35,"t":34},
{"x":1.05,"y":3.45,"t":132},{"x":1.15,"y":3.45,"t":132},{"x":1.25,"y":3.45,"t":131},{"x":1.35,"y":3.45,"t":131},{"x":1.45,"y":3.45,"t":130},{"x":1.55,"y":3.45,"t":130},{"x":1.65,"y":3.45,"t":129},{"x":1.75,"y":3.45,"t":129},{"x":1.85,"y":3.45,"t":128},{"x":1.95,"y":3.45,"t":127},{"x":2.05,"y":3.45,"t":127},{"x":2.15,"y":3.45,"t":126},{"x":2.25,"y":3.45,"t":125},{"x":2.35,"y":3.45,"t":124},{"x":2.45,"y":3.45,"t":124},{"x":2.55,"y":3.45,"t":123},{"x":2.65,"y":3.45,"t":122},{"x":2.75,"y":3.45,"t":120},{"x":2.85,"y":3.45,"t":119},{"x":2.95,"y":3.45,"t":117},{"x":3.05,"y":3.45,"t":115},{"x":3.15,"y":3.45,"t":108},{"x":3.25,"y":3.45,"t":102},{"x":3.35,"y":3.45,"t":96},{"x":3.45,"y":3.45,"t":91},{"x":3.55,"y":3.45,"t":86},{"x":3.65,"y":3.45,"t":81},{"x":3.75,"y":3.45,"t":76},{"x":3.85,"y":3.45,"t":72},{"x":3.95,"y":3.45,"t":68},{"x":4.05,"y":3.45,"t":65},{"x":4.15,"y":3.45,"t":61},{"x":4.25,"y":3.45,"t":58},{"x":4.35,"y":3.45,"t":56},{"x":4.45,"y":3.45,"t":53},{"x":4.55,"y":3.45,"t":50},{"x":4.65,"y":3.45,"t":47},{"x":4.75,"y":3.45,"t":44},{"x":4.85,"y":3.45,"t":39},{"x":4.95,"y":3.45,"t":33},
{"x":1.05,"y":3.55,"t":116},{"x":1.15,"y":3.55,"t":115},{"x":1.25,"y":3.55,"t":115},{"x":1.35,"y":3.55,"t":115},{"x":1.45,"y":3.55,"t":114},{"x":1.55,"y":3.55,"t":114},{"x":1.65,"y":3.55,"t":113},{"x":1.75,"y":3.55,"t":113},{"x":1.85,"y":3.55,"t":112},{"x":1.95,"y":3.55,"t":112},{"x":2.05,"y":3.55,"t":111},{"x":2.15,"y":3.55,"t":110},{"x":2.25,"y":3.55,"t":110},{"x":2.35,"y":3.55,"t":109},{"x":2.45,"y":3.55,"t":109},{"x":2.55,"y":3.55,"t":108},{"x":2.65,"y":3.55,"t":107},{"x":2.75,"y":3.55,"t":106},{"x":2.85,"y":3.55,"t":105},{"x":2.95,"y":3.55,"t":104},{"x":3.05,"y":3.55,"t":102},{"x":3.15,"y":3.55,"t":96},{"x":3.25,"y":3.55,"t":91},{"x":3.35,"y":3.55,"t":86},{"x":3.45,"y":3.55,"t":81},{"x":3.55,"y":3.55,"t":77},{"x":3.65,"y":3.55,"t":72},{"x":3.75,"y":3.55,"t":68},{"x":3.85,"y":3.55,"t":65},{"x":3.95,"y":3.55,"t":61},{"x":4.05,"y":3.55,"t":59},{"x":4.15,"y":3.55,"t":56},{"x":4.25,"y":3.55,"t":54},{"x":4.35,"y":3.55,"t":51},{"x":4.45,"y":3.55,"t":49},{"x":4.55,"y":3.55,"t":46},{"x":4.65,"y":3.55,"t":44},{"x":4.75,"y":3.55,"t":42},{"x":4.85,"y":3.55,"t":38},{"x":4.95,"y":3.55,"t":33},
{"x":1.05,"y":3.65,"t":96},{"x":1.15,"y":3.65,"t":96},{"x":1.25,"y":3.65,"t":96},{"x":1.35,"y":3.65,"t":95},{"x":1.45,"y":3.65,"t":95},{"x":1.55,"y":3.65,"t":95},{"x":1.65,"y":3.65,"t":94},{"x":1.75,"y":3.65,"t":94},{"x":1.85,"y":3.65,"t":93},{"x":1.95,"y":3.65,"t":93},{"x":2.05,"y":3.65,"t":93},{"x":2.15,"y":3.65,"t":92},{"x":2.25,"y":3.65,"t":92},{"x":2.35,"y":3.65,"t":91},{"x":2.45,"y":3.65,"t":91},{"x":2.55,"y":3.65,"t":90},{"x":2.65,"y":3.65,"t":89},{"x":2.75,"y":3.65,"t":88},{"x":2.85,"y":3.65,"t":88},{"x":2.95,"y":3.65,"t":87},{"x":3.05,"y":3.65,"t":85},{"x":3.15,"y":3.65,"t":81},{"x":3.25,"y":3.65,"t":77},{"x":3.35,"y":3.65,"t":73},{"x":3.45,"y":3.65,"t":70},{"x":3.55,"y":3.65,"t":66},{"x":3.65,"y":3.65,"t":63},{"x":3.75,"y":3.65,"t":60},{"x":3.85,"y":3.65,"t":57},{"x":3.95,"y":3.65,"t":54},{"x":4.05,"y":3.65,"t":52},{"x":4.15,"y":3.65,"t":50},{"x":4.25,"y":3.65,"t":48},{"x":4.35,"y":3.65,"t":46},{"x":4.45,"y":3.65,"t":45},{"x":4.55,"y":3.65,"t":43},{"x":4.65,"y":3.65,"t":41},{"x":4.75,"y":3.65,"t":39},{"x":4.85,"y":3.65,"t":36},{"x":4.95,"y":3.65,"t":32},
{"x":1.05,"y":3.75,"t":80},{"x":1.15,"y":3.75,"t":80},{"x":1.25,"y":3.75,"t":79},{"x":1.35,"y":3.75,"t":79},{"x":1.45,"y":3.75,"t":79},{"x":1.55,"y":3.75,"t":79},{"x":1.65,"y":3.75,"t":78},{"x":1.75,"y":3.75,"t":78},{"x":1.85,"y":3.75,"t":78},{"x":1.95,"y":3.75,"t":77},{"x":2.05,"y":3.75,"t":77},{"x":2.15,"y":3.75,"t":77},{"x":2.25,"y":3.75,"t":76},{"x":2.35,"y":3.75,"t":76},{"x":2.45,"y":3.75,"t":76},{"x":2.55,"y":3.75,"t":75},{"x":2.65,"y":3.75,"t":75},{"x":2.75,"y":3.75,"t":74},{"x":2.85,"y":3.75,"t":74},{"x":2.95,"y":3.75,"t":73},{"x":3.05,"y":3.75,"t":72},{"x":3.15,"y":3.75,"t":68},{"x":3.25,"y":3.75,"t":65},{"x":3.35,"y":3.75,"t":62},{"x":3.45,"y":3.75,"t":60},{"x":3.55,"y":3.75,"t":57},{"x":3.65,"y":3.75,"t":55},{"x":3.75,"y":3.75,"t":53},{"x":3.85,"y":3.75,"t":51},{"x":3.95,"y":3.75,"t":49},{"x":4.05,"y":3.75,"t":47},{"x":4.15,"y":3.75,"t":45},{"x":4.25,"y":3.75,"t":44},{"x":4.35,"y":3.75,"t":43},{"x":4.45,"y":3.75,"t":41},{"x":4.55,"y":3.75,"t":40},{"x":4.65,"y":3.75,"t":39},{"x":4.75,"y":3.75,"t":37},{"x":4.85,"y":3.75,"t":35},{"x":4.95,"y":3.75,"t":32},
{"x":1.05,"y":3.85,"t":64},{"x":1.15,"y":3.85,"t":63},{"x":1.25,"y":3.85,"t":63},{"x":1.35,"y":3.85,"t":63},{"x":1.45,"y":3.85,"t":63},{"x":1.55,"y":3.85,"t":63},{"x":1.65,"y":3.85,"t":63},{"x":1.75,"y":3.85,"t":62},{"x":1.85,"y":3.85,"t":62},{"x":1.95,"y":3.85,"t":62},{"x":2.05,"y":3.85,"t":62},{"x":2.15,"y":3.85,"t":62},{"x":2.25,"y":3.85,"t":61},{"x":2.35,"y":3.85,"t":61},{"x":2.45,"y":3.85,"t":61},{"x":2.55,"y":3.85,"t":60},{"x":2.65,"y":3.85,"t":60},{"x":2.75,"y":3.85,"t":60},{"x":2.85,"y":3.85,"t":59},{"x":2.95,"y":3.85,"t":59},{"x":3.05,"y":3.85,"t":58},{"x":3.15,"y":3.85,"t":56},{"x":3.25,"y":3.85,"t":54},{"x":3.35,"y":3.85,"t":52},{"x":3.45,"y":3.85,"t":50},{"x":3.55,"y":3.85,"t":49},{"x":3.65,"y":3.85,"t":47},{"x":3.75,"y":3.85,"t":45},{"x":3.85,"y":3.85,"t":44},{"x":3.95,"y":3.85,"t":43},{"x":4.05,"y":3.85,"t":42},{"x":4.15,"y":3.85,"t":41},{"x":4.25,"y":3.85,"t":40},{"x":4.35,"y":3.85,"t":39},{"x":4.45,"y":3.85,"t":38},{"x":4.55,"y":3.85,"t":37},{"x":4.65,"y":3.85,"t":36},{"x":4.75,"y":3.85,"t":35},{"x":4.85,"y":3.85,"t":34},{"x":4.95,"y":3.85,"t":32},
{"x":1.05,"y":3.95,"t":44},{"x":1.15,"y":3.95,"t":44},{"x":1.25,"y":3.95,"t":44},{"x":1.35,"y":3.95,"t":44},{"x":1.45,"y":3.95,"t":44},{"x":1.55,"y":3.95,"t":44},{"x":1.65,"y":3.95,"t":44},{"x":1.75,"y":3.95,"t":44},{"x":1.85,"y":3.95,"t":43},{"x":1.95,"y":3.95,"t":43},{"x":2.05,"y":3.95,"t":43},{"x":2.15,"y":3.95,"t":43},{"x":2.25,"y":3.95,"t":43},{"x":2.35,"y":3.95,"t":43},{"x":2.45,"y":3.95,"t":43},{"x":2.55,"y":3.95,"t":43},{"x":2.65,"y":3.95,"t":43},{"x":2.75,"y":3.95,"t":42},{"x":2.85,"y":3.95,"t":42},{"x":2.95,"y":3.95,"t":42},{"x":3.05,"y":3.95,"t":42},{"x":3.15,"y":3.95,"t":41},{"x":3.25,"y":3.95,"t":40},{"x":3.35,"y":3.95,"t":39},{"x":3.45,"y":3.95,"t":39},{"x":3.55,"y":3.95,"t":38},{"x":3.65,"y":3.95,"t":37},{"x":3.75,"y":3.95,"t":37},{"x":3.85,"y":3.95,"t":36},{"x":3.95,"y":3.95,"t":36},{"x":4.05,"y":3.95,"t":35},{"x":4.15,"y":3.95,"t":35},{"x":4.25,"y":3.95,"t":34},{"x":4.35,"y":3.95,"t":34},{"x":4.45,"y":3.95,"t":34},{"x":4.55,"y":3.95,"t":33},{"x":4.65,"y":3.95,"t":33},{"x":4.75,"y":3.95,"t":33},{"x":4.85,"y":3.95,"t":32},{"x":4.95,"y":3.95,"t":31}
]},
"mark": {"type": "square", "size": 1156, "opacity": 1, "strokeWidth": 0, "filled": true, "clip": true},
"encoding": {
  "x": {"field": "x", "type": "quantitative", "scale": {"domain": [1, 5], "nice": false, "zero": false}, "axis": {"values": [1, 1.5, 2, 2.5, 3, 3.5, 4, 4.5, 5], "format": ".1f", "title": "x [m]", "labelPadding": 10, "titlePadding": 21}},
  "y": {"field": "y", "type": "quantitative", "scale": {"domain": [1, 4], "nice": false, "zero": false}, "axis": {"values": [1, 1.5, 2, 2.5, 3, 3.5, 4], "format": ".1f", "title": "y [m]", "labelPadding": 15, "titlePadding": 16}},
  "color": {"field": "t", "type": "quantitative", "scale": {"scheme": "magma", "domain": [31, 687]},
    "legend": {"orient": "none", "legendX": 1414, "legendY": -160, "direction": "vertical", "gradientLength": 1323, "gradientThickness": 68, "gradientStrokeColor": "black", "gradientStrokeWidth": 3, "values": [100, 200, 300, 400, 500, 600], "labelFontSize": 42, "labelFont": "DejaVu Sans", "labelColor": "black", "labelOffset": 31, "padding": 0, "title": null}}
}
}
